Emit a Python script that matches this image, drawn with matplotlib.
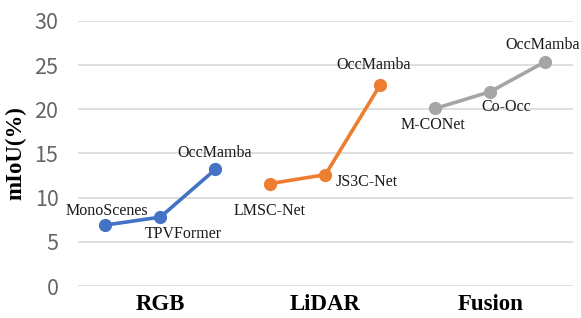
import numpy as np
import matplotlib
matplotlib.use('Agg')
import matplotlib.pyplot as plt

# data
groups = ['RGB', 'LiDAR', 'Fusion']
rgb_methods = ['MonoScenes', 'TPVFormer', 'OccMamba']
rgb_miou = [6.9, 7.8, 13.2]
lidar_methods = ['LMSC-Net', 'JS3C-Net', 'OccMamba']
lidar_miou = [11.6, 12.6, 22.8]
fusion_methods = ['M-CONet', 'Co-Occ', 'OccMamba']
fusion_miou = [20.1, 22.0, 25.4]

colors = ['#4472C4', '#ED7D31', '#A5A5A5']
# label placement (offset in pixels, horizontal alignment)
offsets = [
    [(2, 14, 'center'), (-16, -17, 'left'), (-1, 16, 'center')],
    [(-1, -27, 'center'), (10, -7, 'left'), (-7, 20, 'center')],
    [(-2, -17, 'center'), (16, -15, 'center'), (-3, 17, 'center')],
]

fig = plt.figure(figsize=(5.81, 3.18), dpi=100)
ax = fig.add_axes([0.134, 0.1006, 0.852, 0.8334])

series = [(rgb_methods, rgb_miou), (lidar_methods, lidar_miou), (fusion_methods, fusion_miou)]
for g, (names, vals) in enumerate(series):
    x = np.arange(len(vals)) + g * 3
    ax.plot(x, vals, color=colors[g], lw=2.6, marker='o', ms=8.5, solid_capstyle='round')
    for xi, v, name, (dx, dy, ha) in zip(x, vals, names, offsets[g]):
        ax.annotate(name, (xi, v), xytext=(dx, dy), textcoords='offset pixels',
                    ha=ha, va='center', fontsize=11.5, family='Liberation Serif', color='#1a1a1a')

ax.set_xlim(-0.5, 8.5)
ax.set_ylim(0, 30)
ax.set_yticks(range(0, 31, 5))
ax.yaxis.grid(True, color='#d9d9d9', lw=1.2)
ax.set_axisbelow(True)
for s in ax.spines.values():
    s.set_visible(False)
ax.tick_params(axis='y', length=0, pad=14, labelsize=15.5, labelcolor='#666666')
for lab in ax.get_yticklabels():
    lab.set_family('Noto Sans CJK SC')
ax.set_xticks([1, 4, 7])
ax.set_xticklabels(groups, fontsize=16.5, fontweight='bold', family='Liberation Serif')
ax.tick_params(axis='x', length=0, pad=6)
ax.set_ylabel('mIoU(%)', fontsize=16.5, fontweight='bold', family='Liberation Serif', labelpad=6)

fig.savefig('out.png', dpi=100)
